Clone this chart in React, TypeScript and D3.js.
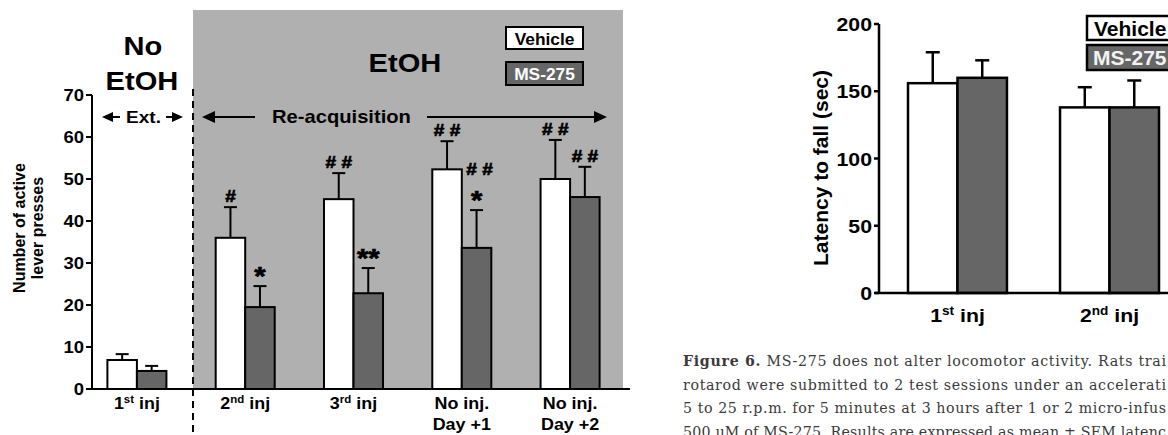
import React from 'react';
import * as d3 from 'd3';

// ---- left panel data (number of active lever presses) ----
const sessions = ['s1', 's2', 's3', 'd1', 'd2'];
const sessionLabels = [
  { num: '1', sup: 'st', rest: ' inj' },
  { num: '2', sup: 'nd', rest: ' inj' },
  { num: '3', sup: 'rd', rest: ' inj' },
  { line1: 'No inj.', line2: 'Day +1' },
  { line1: 'No inj.', line2: 'Day +2' },
];
const vehicleMean = [6.9, 36, 45.2, 52.3, 50];
const vehicleSem = [1.4, 7.3, 6.2, 6.7, 9.3];
const msMean = [4.3, 19.5, 22.8, 33.6, 45.7];
const msSem = [1.2, 5, 6, 9, 7.2];
const vehicleSig = ['', '#', '# #', '# #', '# #'];
const msSig = ['', '*', '**', '*', '# #'];
const msSigExtra = ['', '', '', '# #', ''];
const leftTicks = [0, 10, 20, 30, 40, 50, 60, 70];

// ---- right panel data (rotarod latency) ----
const rotaSessions = ['r1', 'r2'];
const rotaLabels = [
  { num: '1', sup: 'st', rest: ' inj' },
  { num: '2', sup: 'nd', rest: ' inj' },
];
const latVehicle = [156, 138];
const latVehicleSem = [23, 15];
const latMs = [160, 138];
const latMsSem = [13, 20];
const rightTicks = [0, 50, 100, 150, 200];

const treatments = ['Vehicle', 'MS-275'];
const caption = [
  { bold: 'Figure 6.', text: ' MS-275 does not alter locomotor activity. Rats trai' },
  { bold: '', text: 'rotarod were submitted to 2 test sessions under an accelerati' },
  { bold: '', text: '5 to 25 r.p.m. for 5 minutes at 3 hours after 1 or 2 micro-infus' },
  { bold: '', text: '500 \u03bcM of MS-275. Results are expressed as mean \u00b1 SEM latenc' },
];

const SANS = '"Liberation Sans", Arial, sans-serif';
const SERIF = '"DejaVu Serif", serif';
const SX = 1.12;
const GRAY_BG = '#b0b0b0';
const DARK = '#666666';

function Txt({ x, y, size, anchor = 'middle', fill = '#000', sx = SX, heavy = false, children }: any) {
  return (
    <text
      transform={`translate(${x},${y}) scale(${sx},1)`}
      fontSize={size}
      textAnchor={anchor}
      fill={fill}
      fontWeight={700}
      fontFamily={SANS}
      stroke={heavy ? fill : 'none'}
      strokeWidth={heavy ? 0.7 : 0}
    >
      {children}
    </text>
  );
}

function SupLabel({ x, y, size, lab }: any) {
  if (lab.line1) {
    return (
      <g>
        <Txt x={x} y={y} size={size}>{lab.line1}</Txt>
        <Txt x={x} y={y + size * 1.3} size={size}>{lab.line2}</Txt>
      </g>
    );
  }
  const up = size * 0.38;
  return (
    <Txt x={x} y={y} size={size}>
      <tspan>{lab.num}</tspan>
      <tspan fontSize={size * 0.64} dy={-up}>{lab.sup}</tspan>
      <tspan dy={up}>{lab.rest}</tspan>
    </Txt>
  );
}

function Arrow({ x1, x2, y, head = 12 }: any) {
  // arrow pointing from x1 to x2
  const dir = x2 > x1 ? 1 : -1;
  return (
    <g>
      <line x1={x1} x2={x2 - dir * head * 0.8} y1={y} y2={y} stroke="#000" strokeWidth={2} />
      <path d={`M${x2},${y} L${x2 - dir * head},${y - head / 2.2} L${x2 - dir * head},${y + head / 2.2} Z`} fill="#000" />
    </g>
  );
}

function LeftPanel() {
  const y = d3.scaleLinear().domain([0, 70]).range([389, 95]);
  const x = d3.scaleBand().domain(sessions).range([107.4, 599.6]).paddingInner(0.455);
  const xi = d3.scaleBand().domain(treatments).range([0, x.bandwidth()]);
  const axisX = 92;
  const cap = 13;

  return (
    <g>
      <rect x={193} y={10} width={430} height={y(0) - 10} fill={GRAY_BG} />
      <line x1={193} x2={193} y1={89} y2={435} stroke="#000" strokeWidth={2} strokeDasharray="7,5" />

      {sessions.map((s, i) => {
        const gx = x(s)!;
        const bars = [
          { t: 'Vehicle', m: vehicleMean[i], e: vehicleSem[i], fill: '#fff' },
          { t: 'MS-275', m: msMean[i], e: msSem[i], fill: DARK },
        ];
        const isHash = msSig[i].startsWith('#');
        return (
          <g key={s}>
            {bars.map((b) => {
              const bx = gx + xi(b.t)!;
              const cx = bx + xi.bandwidth() / 2;
              return (
                <g key={b.t}>
                  <line x1={cx} x2={cx} y1={y(b.m)} y2={y(b.m + b.e)} stroke="#000" strokeWidth={2} />
                  <line x1={cx - cap / 2} x2={cx + cap / 2} y1={y(b.m + b.e)} y2={y(b.m + b.e)} stroke="#000" strokeWidth={2} />
                  <rect x={bx} y={y(b.m)} width={xi.bandwidth()} height={y(0) - y(b.m)} fill={b.fill} stroke="#000" strokeWidth={2} />
                </g>
              );
            })}
            {vehicleSig[i] && (
              <Txt x={gx + xi('Vehicle')! + xi.bandwidth() / 2} y={y(vehicleMean[i] + vehicleSem[i]) - 5} size={17} heavy>
                {vehicleSig[i]}
              </Txt>
            )}
            {msSig[i] && (
              <Txt
                x={gx + xi('MS-275')! + xi.bandwidth() / 2}
                y={y(msMean[i] + msSem[i]) - (isHash ? 5 : 1)}
                size={isHash ? 17 : 26}
                heavy
              >
                {msSig[i]}
              </Txt>
            )}
            {msSigExtra[i] && (
              <Txt x={gx + xi('MS-275')! + xi.bandwidth() / 2 + 3} y={y(msMean[i] + msSem[i]) - 35} size={17} heavy>
                {msSigExtra[i]}
              </Txt>
            )}
            <SupLabel x={gx + x.bandwidth() / 2} y={409} size={16} lab={sessionLabels[i]} />
          </g>
        );
      })}

      {/* axes */}
      <line x1={axisX} x2={axisX} y1={y(70)} y2={y(0)} stroke="#000" strokeWidth={2} />
      <line x1={axisX - 6} x2={630} y1={y(0)} y2={y(0)} stroke="#000" strokeWidth={2} />
      {leftTicks.map((t) => (
        <g key={t}>
          <line x1={axisX - 6} x2={axisX} y1={y(t)} y2={y(t)} stroke="#000" strokeWidth={2} />
          <Txt x={84} y={y(t) + 6} size={16.5} anchor="end">{t}</Txt>
        </g>
      ))}
      <text transform="translate(25,228) rotate(-90)" textAnchor="middle" fontSize={16} fontWeight={700} fontFamily={SANS}>
        Number of active
      </text>
      <text transform="translate(43,228) rotate(-90)" textAnchor="middle" fontSize={16} fontWeight={700} fontFamily={SANS}>
        lever presses
      </text>

      {/* headings */}
      <Txt x={143} y={55} size={26}>No</Txt>
      <Txt x={142} y={90} size={26}>EtOH</Txt>
      <Txt x={405} y={72} size={26}>EtOH</Txt>
      <Arrow x1={120} x2={102} y={117} head={11} />
      <Txt x={143.5} y={123} size={17}>Ext.</Txt>
      <Arrow x1={166} x2={183} y={117} head={11} />
      <Arrow x1={255} x2={202} y={117} head={13} />
      <Txt x={272} y={123} size={18} anchor="start">Re-acquisition</Txt>
      <Arrow x1={427} x2={607} y={117} head={13} />

      {/* legend */}
      <rect x={506} y={27} width={77} height={22} fill="#fff" stroke="#000" strokeWidth={2} />
      <Txt x={544.5} y={45} size={17} sx={1.02}>{treatments[0]}</Txt>
      <rect x={506} y={62} width={77} height={23} fill={DARK} stroke="#000" strokeWidth={2} />
      <Txt x={544.5} y={80} size={17} sx={1.02} fill="#fff">{treatments[1]}</Txt>
    </g>
  );
}

function RightPanel() {
  const y = d3.scaleLinear().domain([0, 200]).range([293, 24]);
  const x = d3.scaleBand().domain(rotaSessions).range([908, 1159]).paddingInner(0.349);
  const xi = d3.scaleBand().domain(treatments).range([0, x.bandwidth()]);
  const axisX = 879;
  const cap = 14;

  return (
    <g>
      {rotaSessions.map((s, i) => {
        const gx = x(s)!;
        const bars = [
          { t: 'Vehicle', m: latVehicle[i], e: latVehicleSem[i], fill: '#fff' },
          { t: 'MS-275', m: latMs[i], e: latMsSem[i], fill: DARK },
        ];
        return (
          <g key={s}>
            {bars.map((b) => {
              const bx = gx + xi(b.t)!;
              const cx = bx + xi.bandwidth() / 2;
              return (
                <g key={b.t}>
                  <line x1={cx} x2={cx} y1={y(b.m)} y2={y(b.m + b.e)} stroke="#000" strokeWidth={2.5} />
                  <line x1={cx - cap / 2} x2={cx + cap / 2} y1={y(b.m + b.e)} y2={y(b.m + b.e)} stroke="#000" strokeWidth={2.5} />
                  <rect x={bx} y={y(b.m)} width={xi.bandwidth()} height={y(0) - y(b.m)} fill={b.fill} stroke="#000" strokeWidth={2.5} />
                </g>
              );
            })}
            <SupLabel x={gx + x.bandwidth() / 2} y={322} size={19} lab={rotaLabels[i]} />
          </g>
        );
      })}

      <line x1={axisX} x2={axisX} y1={y(200)} y2={y(0)} stroke="#000" strokeWidth={2.5} />
      <line x1={axisX - 4} x2={1180} y1={y(0)} y2={y(0)} stroke="#000" strokeWidth={2.5} />
      {rightTicks.map((t) => (
        <g key={t}>
          <line x1={axisX - 5} x2={axisX} y1={y(t)} y2={y(t)} stroke="#000" strokeWidth={2.5} />
          <Txt x={872} y={y(t) + 7} size={19} anchor="end">{t}</Txt>
        </g>
      ))}
      <text transform="translate(828,168) rotate(-90)" textAnchor="middle" fontSize={21} fontWeight={700} fontFamily={SANS}>
        Latency to fall (sec)
      </text>

      <rect x={1087} y={16} width={100} height={24} fill="#fff" stroke="#000" strokeWidth={2.5} />
      <Txt x={1094} y={35.5} size={21} sx={1} anchor="start">{treatments[0]}</Txt>
      <rect x={1087} y={45} width={100} height={25} fill={DARK} stroke="#000" strokeWidth={2.5} />
      <Txt x={1093} y={65} size={21} sx={1} anchor="start" fill="#f2f2f2">{treatments[1]}</Txt>
    </g>
  );
}

function Caption() {
  const x0 = 683;
  const base = [366, 389.5, 413, 436.5];
  return (
    <g fontFamily={SERIF} fontSize={14.2} fill="#3a3a3a">
      {caption.map((c, i) => (
        <text key={i} x={x0} y={base[i]} textLength={1166 - x0} lengthAdjust="spacing">
          {c.bold && <tspan fontWeight={700}>{c.bold}</tspan>}
          <tspan>{c.text}</tspan>
        </text>
      ))}
    </g>
  );
}

export default function App() {
  return (
    <svg
      width={1168}
      height={435}
      style={{ position: 'absolute', left: 0, top: 0, background: '#fff' }}
    >
      <rect width={1168} height={435} fill="#fff" />
      <LeftPanel />
      <RightPanel />
      <Caption />
    </svg>
  );
}
